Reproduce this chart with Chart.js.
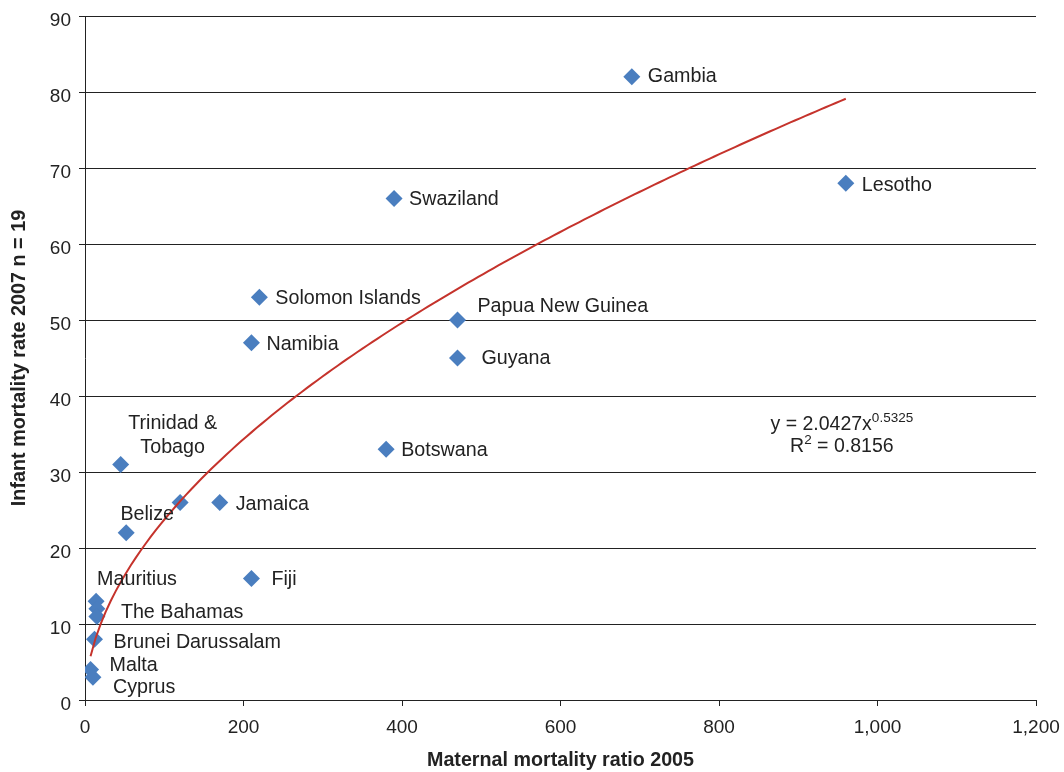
<!DOCTYPE html>
<html>
<head>
<meta charset="utf-8">
<script src="https://cdn.jsdelivr.net/npm/chart.js@4.4.1/dist/chart.umd.min.js"></script>
<style>
  html, body { margin: 0; padding: 0; background: #ffffff; }
  canvas { display: block; }
</style>
</head>
<body>
<canvas id="chart" width="1064" height="772"></canvas>
<script>
// Country labels (empty string = point drawn without a label)
const pointLabels = [
  'Gambia', 'Lesotho', 'Swaziland', 'Solomon Islands', 'Papua New Guinea',
  'Namibia', 'Guyana', 'Botswana', 'Trinidad & Tobago', '', 'Jamaica',
  'Belize', 'Fiji', 'Mauritius', 'The Bahamas', '', 'Brunei Darussalam',
  'Malta', 'Cyprus'
];
// Maternal mortality ratio 2005
const maternalMortality = [690, 960, 390, 220, 470, 210, 470, 380, 45, 120, 170, 52, 210, 14, 15, 15, 12, 7, 10];
// Infant mortality rate 2007
const infantMortality = [82, 68, 66, 53, 50, 47, 45, 33, 31, 26, 26, 22, 16, 13, 12, 11, 8, 4, 3];

// Axis ticks
const xTicks = [0, 200, 400, 600, 800, 1000, 1200];
const yTicks = [0, 10, 20, 30, 40, 50, 60, 70, 80, 90];

// Power trendline y = a * x^b (coefficients as printed on the chart)
const trendA = 2.0427;
const trendB = 0.5325;
const trendR2 = 0.8156;
const trendFrom = 7;
const trendTo = 960;

const FONT = "'Liberation Sans', Arial, Helvetica, sans-serif";
const TEXT = '#222222';
const LINE = '#222222';

const points = maternalMortality.map((x, i) => ({ x, y: infantMortality[i] }));

const trendPoints = [];
for (let k = 0; k <= 150; k++) {
  const x = trendFrom + (trendTo - trendFrom) * k / 150;
  trendPoints.push({ x, y: trendA * Math.pow(x, trendB) });
}

// Where each country's name sits relative to its marker (pixels)
const labelPlacement = {
  'Gambia':            { dx: 16, dy: 0 },
  'Lesotho':           { dx: 16, dy: 2 },
  'Swaziland':         { dx: 15, dy: 1 },
  'Solomon Islands':   { dx: 16, dy: 1 },
  'Papua New Guinea':  { dx: 20, dy: -13 },
  'Namibia':           { dx: 15, dy: 2 },
  'Guyana':            { dx: 24, dy: 1 },
  'Botswana':          { dx: 15, dy: 1 },
  'Trinidad & Tobago': { dx: 52, dy: -41, center: true, lines: ['Trinidad &', 'Tobago'], gap: 24 },
  'Jamaica':           { dx: 16, dy: 2 },
  'Belize':            { dx: 21, dy: -18, center: true },
  'Fiji':              { dx: 20, dy: 1 },
  'Mauritius':         { dx: 1, dy: -22 },
  'The Bahamas':       { dx: 24, dy: 4 },
  'Brunei Darussalam': { dx: 19, dy: 3 },
  'Malta':             { dx: 19, dy: -4 },
  'Cyprus':            { dx: 20, dy: 10 }
};

const pointLabelPlugin = {
  id: 'pointLabels',
  afterDatasetsDraw(chart) {
    const meta = chart.getDatasetMeta(1);
    const ctx = chart.ctx;
    ctx.save();
    ctx.font = '19.7px ' + FONT;
    ctx.fillStyle = TEXT;
    ctx.textBaseline = 'middle';
    meta.data.forEach((el, i) => {
      const name = pointLabels[i];
      if (!name) return;
      const p = labelPlacement[name] || { dx: 16, dy: 0 };
      const lines = p.lines || [name];
      ctx.textAlign = p.center ? 'center' : 'left';
      lines.forEach((line, j) => {
        ctx.fillText(line, el.x + p.dx, el.y + p.dy + j * (p.gap || 0));
      });
    });
    ctx.restore();
  }
};

// Trendline equation and R² drawn as text with superscripts
const equationPlugin = {
  id: 'equation',
  afterDraw(chart) {
    const ctx = chart.ctx;
    const xs = chart.scales.x, ys = chart.scales.y;
    const cx = xs.getPixelForValue(955);
    const y1 = ys.getPixelForValue(36.2);
    const y2 = y1 + 22;
    const main = '19.5px ' + FONT;
    const sup = '13.5px ' + FONT;
    function drawParts(parts, y) {
      let w = 0;
      parts.forEach(p => { ctx.font = p.sup ? sup : main; w += ctx.measureText(p.t).width; });
      let x = cx - w / 2;
      parts.forEach(p => {
        ctx.font = p.sup ? sup : main;
        ctx.fillText(p.t, x, p.sup ? y - 7 : y);
        x += ctx.measureText(p.t).width;
      });
    }
    ctx.save();
    ctx.fillStyle = TEXT;
    ctx.textAlign = 'left';
    ctx.textBaseline = 'middle';
    drawParts([{ t: 'y = ' + trendA + 'x' }, { t: String(trendB), sup: true }], y1);
    drawParts([{ t: 'R' }, { t: '2', sup: true }, { t: ' = ' + trendR2 }], y2);
    ctx.restore();
  }
};

new Chart(document.getElementById('chart'), {
  type: 'scatter',
  data: {
    datasets: [
      {
        label: 'Power trend',
        data: trendPoints,
        showLine: true,
        borderColor: '#c5332c',
        borderWidth: 2,
        pointRadius: 0,
        tension: 0,
        fill: false,
        order: 0
      },
      {
        label: 'Countries',
        data: points,
        pointStyle: 'rectRot',
        pointRadius: 8.5,
        backgroundColor: '#4a7ebf',
        borderColor: '#4a7ebf',
        borderWidth: 0,
        order: 1
      }
    ]
  },
  options: {
    responsive: false,
    animation: false,
    devicePixelRatio: 1,
    layout: { padding: { top: 16, right: 28, bottom: 0, left: 0 } },
    plugins: {
      legend: { display: false },
      tooltip: { enabled: false }
    },
    scales: {
      x: {
        type: 'linear',
        min: xTicks[0],
        max: xTicks[xTicks.length - 1],
        afterFit(scale) {
          scale.height = 72;
          scale.paddingLeft = 0;
          scale.paddingRight = 0;
        },
        afterBuildTicks(scale) { scale.ticks = xTicks.map(v => ({ value: v })); },
        ticks: {
          padding: 10,
          color: TEXT,
          font: { size: 19, family: FONT },
          maxRotation: 0,
          callback: v => v.toLocaleString('en-US')
        },
        grid: { drawOnChartArea: false, drawTicks: true, tickLength: 6, color: LINE, lineWidth: 1 },
        border: { display: true, color: LINE, width: 1 },
        title: {
          display: true,
          text: 'Maternal mortality ratio 2005',
          color: TEXT,
          font: { size: 19.7, weight: 'bold', family: FONT, lineHeight: 1.2 },
          padding: { top: 0, bottom: 0 }
        }
      },
      y: {
        type: 'linear',
        min: yTicks[0],
        max: yTicks[yTicks.length - 1],
        afterFit(scale) {
          scale.width = 85;
          scale.paddingTop = 0;
          scale.paddingBottom = 0;
        },
        afterBuildTicks(scale) { scale.ticks = yTicks.map(v => ({ value: v })); },
        ticks: {
          padding: 8,
          labelOffset: 5,
          color: TEXT,
          font: { size: 19, family: FONT }
        },
        grid: { drawOnChartArea: true, drawTicks: true, tickLength: 6, color: LINE, lineWidth: 1 },
        border: { display: true, color: LINE, width: 1 },
        title: {
          display: true,
          text: 'Infant mortality rate 2007 n = 19',
          color: TEXT,
          font: { size: 19.8, weight: 'bold', family: FONT, lineHeight: 1.2 },
          padding: { top: 8, bottom: 0 }
        }
      }
    }
  },
  plugins: [pointLabelPlugin, equationPlugin]
});
</script>
</body>
</html>
